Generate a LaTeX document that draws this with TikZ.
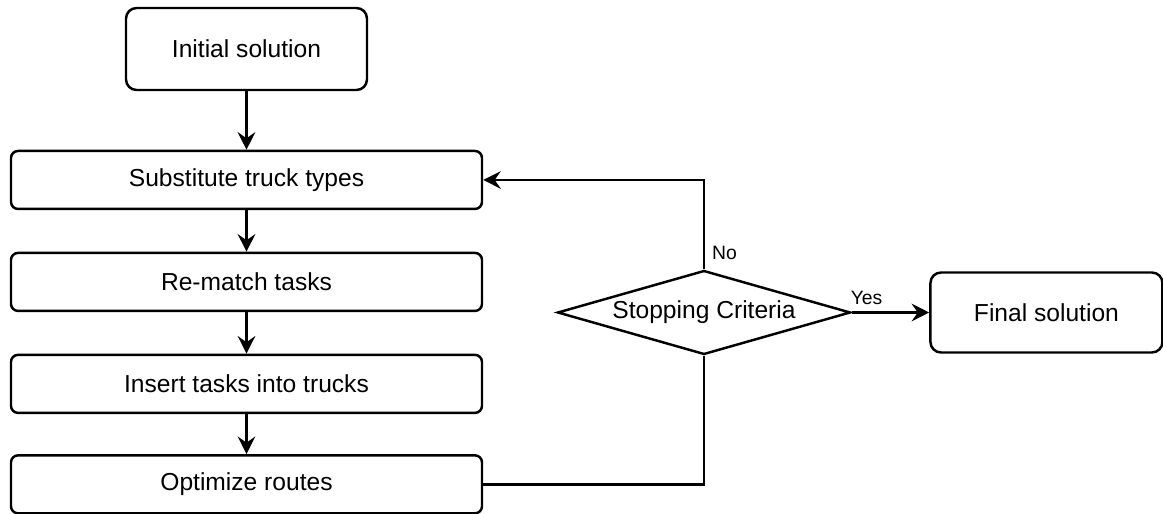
\documentclass[tikz,border=0pt]{standalone}
\usepackage{fontspec}
\setmainfont{Liberation Sans}
\usetikzlibrary{arrows.meta,positioning,shapes.geometric}

\begin{document}
\begin{tikzpicture}[
  font=\fontsize{14}{17}\selectfont,
  >={Stealth[length=10pt, width=10pt, inset=3.5pt]},
  line width=1.4pt,
  start/.style={
    rectangle, rounded corners=6pt, draw=black,
    minimum width=4.82cm, minimum height=1.64cm, text centered
  },
  stage/.style={
    rectangle, rounded corners=4pt, draw=black,
    minimum width=9.42cm, minimum height=1.16cm, text centered
  },
  decision/.style={
    diamond, draw=black, inner sep=0pt, aspect=3.49,
    minimum width=5.86cm, minimum height=1.68cm, text centered
  },
  finish/.style={
    rectangle, rounded corners=6pt, draw=black,
    minimum width=4.64cm, minimum height=1.6cm, text centered
  },
  lbl/.style={font=\fontsize{11}{13}\selectfont},
  arr/.style={->},
]
\useasboundingbox (0,0) rectangle (23.26,-10.28);

%% Main column
\node[start] at (4.93,-0.98)          (init)    {Initial solution};
\node[stage, below=1.17cm of init]    (subst)   {Substitute truck types};
\node[stage, below=0.83cm of subst]   (rematch) {Re-match tasks};
\node[stage, below=0.83cm of rematch] (insert)  {Insert tasks into trucks};
\node[stage, below=0.80cm of insert]  (optim)   {Optimize routes};

%% Stopping test and result
\node[decision] at (14.08,-6.25)      (stop)    {Stopping Criteria};
\node[finish, right=1.55cm of stop]   (final)   {Final solution};

%% Main flow arrows
\draw[arr] (init)    -- (subst);
\draw[arr] (subst)   -- (rematch);
\draw[arr] (rematch) -- (insert);
\draw[arr] (insert)  -- (optim);

%% Loop back
\draw (optim.east) -| (stop.south);
\draw[arr] (stop.north) |- (subst.east);
\node[lbl, above right=0.05cm and 0.02cm of stop.north] (no) {No};

%% Exit
\draw[arr] (stop.east) -- (final.west);
\node[lbl, above right=0.02cm and -0.16cm of stop.east] (yes) {Yes};

\end{tikzpicture}
\end{document}
